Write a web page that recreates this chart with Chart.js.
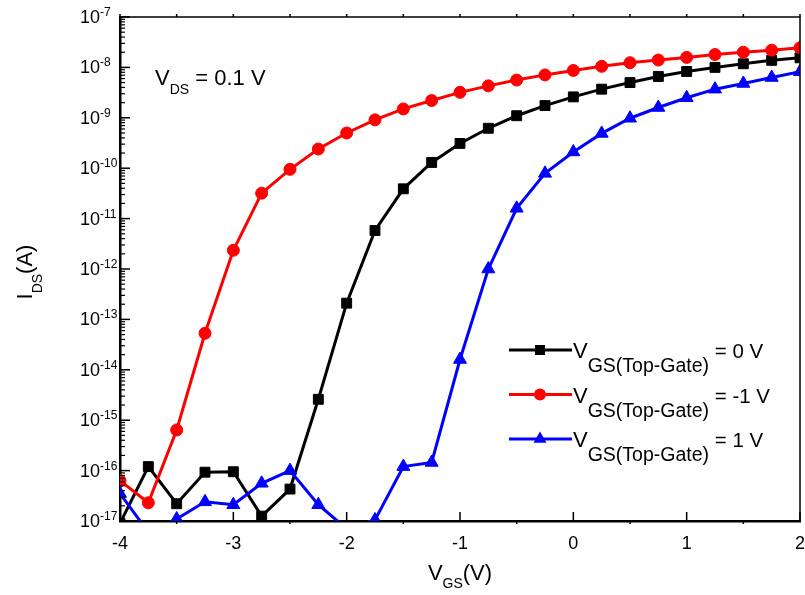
<!DOCTYPE html>
<html>
<head>
<meta charset="utf-8">
<script src="https://cdn.jsdelivr.net/npm/chart.js@4/dist/chart.umd.min.js"></script>
<style>
  html, body { margin: 0; padding: 0; background: #fff; }
  canvas { display: block; }
</style>
</head>
<body>
<canvas id="ivChart" width="805" height="595"></canvas>
<script>
// gate voltage steps (V)
var vgs = [-4, -3.75, -3.5, -3.25, -3, -2.75, -2.5, -2.25, -2, -1.75, -1.5, -1.25, -1,
           -0.75, -0.5, -0.25, 0, 0.25, 0.5, 0.75, 1, 1.25, 1.5, 1.75, 2];

// drain current (A) for each top-gate bias
var idsTop0 = [9e-18, 1.2e-16, 2.2e-17, 9.3e-17, 9.5e-17, 1.25e-17, 4.3e-17, 2.6e-15, 2.1e-13,
               5.8e-12, 3.9e-11, 1.3e-10, 3.1e-10, 6.2e-10, 1.1e-9, 1.75e-9, 2.6e-9, 3.7e-9,
               5.0e-9, 6.6e-9, 8.3e-9, 1.0e-8, 1.18e-8, 1.38e-8, 1.55e-8];
var idsTopM1 = [6.3e-17, 2.3e-17, 6.4e-16, 5.3e-14, 2.35e-12, 3.2e-11, 9.5e-11, 2.4e-10, 5.0e-10,
                9.1e-10, 1.5e-9, 2.2e-9, 3.2e-9, 4.3e-9, 5.6e-9, 7.1e-9, 8.7e-9, 1.05e-8,
                1.24e-8, 1.4e-8, 1.58e-8, 1.8e-8, 2.0e-8, 2.2e-8, 2.45e-8];
var idsTop1 = [3.5e-17, 6e-18, 1.1e-17, 2.4e-17, 2.1e-17, 5.6e-17, 1.0e-16, 2.1e-17, 7e-18,
               1.05e-17, 1.2e-16, 1.45e-16, 1.6e-14, 1.0e-12, 1.6e-11, 7.9e-11, 2.1e-10, 4.9e-10,
               9.8e-10, 1.6e-9, 2.5e-9, 3.7e-9, 4.8e-9, 6.3e-9, 8.2e-9];

var legendValues = ['= 0 V', '= -1 V', '= 1 V'];
var xTicks = [-4, -3, -2, -1, 0, 1, 2];
var yExponents = [-17, -16, -15, -14, -13, -12, -11, -10, -9, -8, -7];

var FONT = '"Liberation Sans", Arial, sans-serif';

function toPoints(ys) {
    return vgs.map(function (v, i) { return { x: v, y: ys[i] }; });
}

function series(label, ys, color, style, radius, order) {
    return {
        label: label,
        data: toPoints(ys),
        borderColor: color,
        backgroundColor: color,
        borderWidth: 3,
        pointStyle: style,
        pointRadius: radius,
        pointBorderWidth: 1,
        pointBorderColor: color,
        pointBackgroundColor: color,
        fill: false,
        tension: 0,
        clip: 0,
        order: order
    };
}

// text with sub/superscripts, parts = [[text, size, dy], ...]
function rich(ctx, x, y, parts) {
    parts.forEach(function (p) {
        ctx.font = p[1] + 'px ' + FONT;
        ctx.fillText(p[0], x, y + (p[2] || 0));
        x += ctx.measureText(p[0]).width;
    });
    return x;
}

function richWidth(ctx, parts) {
    var w = 0;
    parts.forEach(function (p) {
        ctx.font = p[1] + 'px ' + FONT;
        w += ctx.measureText(p[0]).width;
    });
    return w;
}

function marker(ctx, style, x, y, color) {
    ctx.fillStyle = color;
    ctx.beginPath();
    if (style === 'rect') {
        ctx.rect(x - 5, y - 5, 10, 10);
    } else if (style === 'circle') {
        ctx.arc(x, y, 6, 0, Math.PI * 2);
    } else {
        ctx.moveTo(x, y - 7.5);
        ctx.lineTo(x + 6.5, y + 3.75);
        ctx.lineTo(x - 6.5, y + 3.75);
        ctx.closePath();
    }
    ctx.fill();
}

var decorPlugin = {
    id: 'decor',
    afterDraw: function (chart) {
        var ctx = chart.ctx;
        var area = chart.chartArea;
        var xs = chart.scales.x;
        var ys = chart.scales.y;
        ctx.save();
        ctx.strokeStyle = '#000';
        ctx.fillStyle = '#000';

        // top and right frame
        ctx.lineWidth = 1.5;
        ctx.beginPath();
        ctx.moveTo(area.left, area.top);
        ctx.lineTo(area.right, area.top);
        ctx.lineTo(area.right, area.bottom);
        ctx.stroke();

        // x ticks
        ctx.lineWidth = 1.5;
        for (var v = -4; v <= 2; v += 0.5) {
            var px = xs.getPixelForValue(v);
            var major = Math.abs(v - Math.round(v)) < 1e-6;
            ctx.beginPath();
            if (major) {
                ctx.moveTo(px, area.bottom);
                ctx.lineTo(px, area.bottom - 9);
            } else {
                ctx.moveTo(px, area.bottom);
                ctx.lineTo(px, area.bottom + 3);
            }
            ctx.moveTo(px, area.top);
            ctx.lineTo(px, area.top - 3);
            ctx.stroke();
        }

        // y ticks (log, with minors)
        yExponents.forEach(function (e) {
            var py = ys.getPixelForValue(Math.pow(10, e));
            ctx.lineWidth = 1.5;
            ctx.beginPath();
            ctx.moveTo(area.left, py);
            ctx.lineTo(area.left + 10, py);
            ctx.stroke();
            if (e < -7) {
                for (var m = 2; m <= 9; m++) {
                    var pm = ys.getPixelForValue(m * Math.pow(10, e));
                    ctx.lineWidth = 1.2;
                    ctx.beginPath();
                    ctx.moveTo(area.left, pm);
                    ctx.lineTo(area.left + 5, pm);
                    ctx.stroke();
                }
            }
        });

        // x tick labels
        ctx.textBaseline = 'alphabetic';
        ctx.textAlign = 'center';
        ctx.font = '18px ' + FONT;
        xTicks.forEach(function (t) {
            ctx.fillText(String(t), xs.getPixelForValue(t), area.bottom + 28);
        });

        // y tick labels 10^e
        yExponents.forEach(function (e) {
            var py = ys.getPixelForValue(Math.pow(10, e));
            ctx.textAlign = 'right';
            ctx.font = '18px ' + FONT;
            ctx.fillText('10', 100, py + 6);
            ctx.textAlign = 'left';
            ctx.font = '12px ' + FONT;
            ctx.fillText(String(e), 100, py - 1);
        });

        ctx.textAlign = 'left';

        // annotation
        rich(ctx, 155, 85, [['V', 22], ['DS', 14, 9], [' = 0.1 V', 22]]);

        // axis titles
        var xt = [['V', 22], ['GS', 14, 8], ['(V)', 22]];
        rich(ctx, (area.left + area.right) / 2 - richWidth(ctx, xt) / 2, 580, xt);

        var yt = [['I', 22], ['DS', 14, 10], ['(A)', 22]];
        ctx.save();
        ctx.translate(32, 272);
        ctx.rotate(-Math.PI / 2);
        rich(ctx, -richWidth(ctx, yt) / 2, 0, yt);
        ctx.restore();

        // legend
        chart.data.datasets.forEach(function (ds, i) {
            var ly = 350 + i * 44.5;
            ctx.strokeStyle = ds.borderColor;
            ctx.lineWidth = 3;
            ctx.beginPath();
            ctx.moveTo(509, ly);
            ctx.lineTo(572, ly);
            ctx.stroke();
            marker(ctx, ds.pointStyle, 540, ly, ds.borderColor);
            ctx.fillStyle = '#000';
            rich(ctx, 573, ly + 8, [['V', 22], ['GS(Top-Gate)', 19.5, 14], [' ' + legendValues[i], 20.5]]);
        });

        ctx.restore();
    }
};

var options = {
    type: 'line',
    data: {
        datasets: [
            series('VGS(Top-Gate) = 0 V', idsTop0, '#000000', 'rect', 7, 2),
            series('VGS(Top-Gate) = -1 V', idsTopM1, '#ff0000', 'circle', 6, 1),
            series('VGS(Top-Gate) = 1 V', idsTop1, '#0000ff', 'triangle', 7.5, 0)
        ]
    },
    options: {
        responsive: false,
        animation: false,
        layout: {
            autoPadding: false,
            padding: { left: 112, top: 17, right: 5, bottom: 66 }
        },
        scales: {
            x: {
                type: 'linear',
                min: -4,
                max: 2,
                grid: { display: false },
                ticks: { display: false },
                border: { display: true, color: '#000', width: 2.5 }
            },
            y: {
                type: 'logarithmic',
                min: 1e-17,
                max: 1e-7,
                grid: { display: false },
                ticks: { display: false },
                border: { display: true, color: '#000', width: 2.5 }
            }
        },
        plugins: {
            legend: { display: false },
            tooltip: { enabled: false }
        }
    },
    plugins: [decorPlugin]
};

var ctx = document.getElementById('ivChart').getContext('2d');
var theChart = new Chart(ctx, options);
</script>
</body>
</html>
